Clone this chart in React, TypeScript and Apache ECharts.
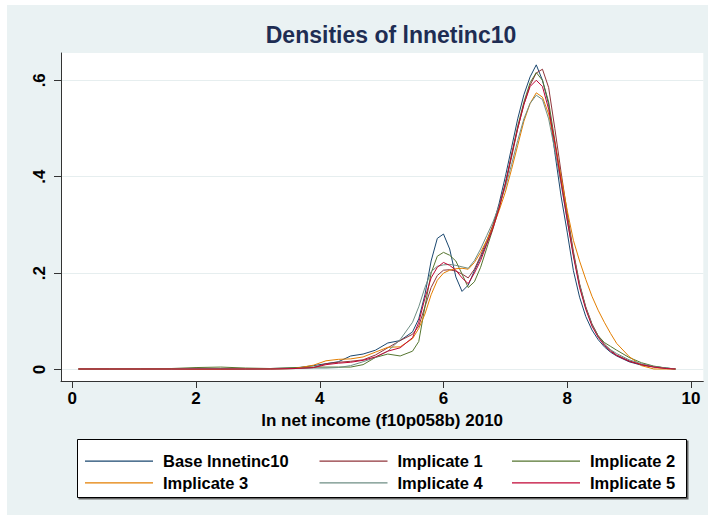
import React, { useEffect, useRef } from "react";
import * as echarts from "echarts";

const X = [0.1, 0.6, 1.1, 1.6, 2.0, 2.4, 2.8, 3.2, 3.6, 3.9, 4.1, 4.3, 4.5, 4.7, 4.9, 5.1, 5.3, 5.5, 5.6, 5.7, 5.8, 5.9, 6.0, 6.1, 6.2, 6.3, 6.4, 6.5, 6.6, 6.7, 6.8, 6.9, 7.0, 7.1, 7.2, 7.3, 7.4, 7.5, 7.6, 7.7, 7.8, 7.9, 8.0, 8.1, 8.2, 8.3, 8.4, 8.5, 8.6, 8.7, 8.8, 9.0, 9.2, 9.4, 9.6, 9.75];

const BASE = [0.001, 0.001, 0.001, 0.001, 0.001, 0.001, 0.001, 0.002, 0.003, 0.008, 0.012, 0.016, 0.028, 0.032, 0.040, 0.055, 0.060, 0.078, 0.105, 0.155, 0.225, 0.272, 0.281, 0.250, 0.192, 0.162, 0.175, 0.205, 0.232, 0.262, 0.298, 0.345, 0.400, 0.460, 0.520, 0.570, 0.607, 0.632, 0.600, 0.550, 0.450, 0.360, 0.285, 0.205, 0.150, 0.110, 0.082, 0.062, 0.047, 0.036, 0.028, 0.016, 0.009, 0.006, 0.003, 0.001];
const IMP1 = [0.001, 0.001, 0.001, 0.001, 0.001, 0.001, 0.001, 0.001, 0.002, 0.004, 0.012, 0.015, 0.017, 0.020, 0.030, 0.045, 0.060, 0.073, 0.090, 0.130, 0.170, 0.195, 0.206, 0.207, 0.204, 0.198, 0.190, 0.208, 0.236, 0.268, 0.300, 0.340, 0.385, 0.440, 0.500, 0.550, 0.590, 0.615, 0.623, 0.585, 0.500, 0.410, 0.325, 0.245, 0.178, 0.130, 0.095, 0.070, 0.053, 0.040, 0.030, 0.018, 0.010, 0.005, 0.002, 0.001];
const IMP2 = [0.001, 0.001, 0.001, 0.002, 0.004, 0.005, 0.003, 0.002, 0.004, 0.005, 0.005, 0.005, 0.005, 0.010, 0.025, 0.032, 0.028, 0.038, 0.058, 0.130, 0.200, 0.235, 0.243, 0.237, 0.225, 0.198, 0.170, 0.182, 0.212, 0.252, 0.292, 0.335, 0.385, 0.445, 0.505, 0.555, 0.595, 0.616, 0.600, 0.555, 0.475, 0.395, 0.315, 0.240, 0.175, 0.128, 0.093, 0.070, 0.056, 0.048, 0.040, 0.025, 0.014, 0.007, 0.003, 0.001];
const IMP3 = [0.001, 0.001, 0.001, 0.001, 0.001, 0.001, 0.001, 0.001, 0.002, 0.009, 0.018, 0.021, 0.022, 0.026, 0.036, 0.046, 0.047, 0.064, 0.085, 0.115, 0.155, 0.185, 0.200, 0.206, 0.209, 0.210, 0.208, 0.222, 0.243, 0.268, 0.296, 0.330, 0.368, 0.415, 0.465, 0.515, 0.552, 0.574, 0.565, 0.530, 0.470, 0.400, 0.330, 0.268, 0.225, 0.187, 0.152, 0.123, 0.098, 0.075, 0.054, 0.027, 0.008, 0.001, 0.001, 0.001];
const IMP4 = [0.001, 0.001, 0.001, 0.001, 0.002, 0.002, 0.001, 0.001, 0.002, 0.003, 0.003, 0.004, 0.008, 0.016, 0.025, 0.038, 0.062, 0.098, 0.130, 0.170, 0.203, 0.214, 0.217, 0.218, 0.216, 0.213, 0.210, 0.226, 0.250, 0.278, 0.306, 0.340, 0.378, 0.425, 0.475, 0.520, 0.552, 0.569, 0.560, 0.520, 0.455, 0.385, 0.310, 0.238, 0.175, 0.128, 0.093, 0.068, 0.052, 0.041, 0.033, 0.020, 0.012, 0.006, 0.003, 0.001];
const IMP5 = [0.001, 0.001, 0.001, 0.001, 0.001, 0.001, 0.001, 0.001, 0.002, 0.004, 0.010, 0.013, 0.015, 0.019, 0.026, 0.038, 0.045, 0.066, 0.098, 0.148, 0.190, 0.212, 0.222, 0.216, 0.206, 0.190, 0.178, 0.200, 0.226, 0.260, 0.293, 0.335, 0.385, 0.445, 0.500, 0.550, 0.587, 0.600, 0.587, 0.540, 0.470, 0.390, 0.310, 0.235, 0.170, 0.125, 0.090, 0.067, 0.050, 0.038, 0.029, 0.017, 0.010, 0.005, 0.002, 0.001];

const SERIES_NAMES = ["Base lnnetinc10", "Implicate 1", "Implicate 2", "Implicate 3", "Implicate 4", "Implicate 5"];
const SERIES_VALUES = [BASE, IMP1, IMP2, IMP3, IMP4, IMP5];
const COLORS = ["#1A476F", "#90353B", "#55752F", "#E37E00", "#6E8E84", "#C10534"];
const X_TICKS = [0, 2, 4, 6, 8, 10];
const Y_TICKS = [0, 0.2, 0.4, 0.6];

const TITLE = "Densities of lnnetinc10";
const X_NAME = "ln net income (f10p058b) 2010";

export default function App() {
  const ref = useRef<HTMLDivElement>(null);
  useEffect(() => {
    const chart = echarts.init(ref.current!, null, { renderer: "svg" });
    const font = "'Liberation Sans', Arial, Helvetica, sans-serif";
    const cols = [85, 319.5, 512];
    const rows = [461.7, 483.3];
    const legends = SERIES_NAMES.map((name, i) => ({
      data: [name],
      left: cols[i % 3],
      top: rows[Math.floor(i / 3)] - 9,
      orient: "horizontal",
      icon: "rect",
      itemWidth: 68,
      itemHeight: 1.2,
      padding: 0,
      selectedMode: false,
      textStyle: { fontFamily: font, fontSize: 16.5, fontWeight: "bold", color: "#000", padding: [0, 0, 0, 5] },
    }));
    const series = SERIES_NAMES.map((name, i) => ({
      type: "line",
      name,
      data: X.map((x, j) => [x, SERIES_VALUES[i][j]]),
      symbol: "none",
      showSymbol: false,
      color: COLORS[i],
      lineStyle: { width: 1, color: COLORS[i] },
      silent: true,
      clip: true,
    }));
    chart.setOption({
      animation: false,
      backgroundColor: "#EAF2F3",
      title: {
        text: TITLE,
        left: 386,
        top: 18,
        textAlign: "center",
        textStyle: { fontFamily: font, fontSize: 23, fontWeight: "bold", color: "#1E2D53" },
      },
      grid: {
        left: 61,
        right: 4.7,
        top: 53,
        bottom: 134,
        show: true,
        backgroundColor: "#ffffff",
        borderWidth: 0,
        containLabel: false,
        outerBoundsMode: "none",
      },
      xAxis: {
        type: "value",
        min: -0.183,
        max: 10.2,
        axisLine: { show: true, onZero: false, lineStyle: { color: "#333", width: 1 } },
        axisTick: { show: true, length: 7, customValues: X_TICKS, lineStyle: { color: "#333" } },
        axisLabel: { customValues: X_TICKS, margin: 9, fontFamily: font, fontSize: 17, fontWeight: "bold", color: "#000" },
        splitLine: { show: false },
        name: X_NAME,
        nameLocation: "middle",
        nameGap: 18,
        nameTextStyle: { fontFamily: font, fontSize: 17, fontWeight: "bold", color: "#000" },
      },
      yAxis: {
        type: "value",
        min: -0.0239,
        max: 0.6566,
        axisLine: { show: true, onZero: false, lineStyle: { color: "#333", width: 1 } },
        axisTick: { show: true, length: 7, customValues: Y_TICKS, lineStyle: { color: "#333" } },
        axisLabel: {
          customValues: Y_TICKS,
          rotate: 90,
          margin: 13,
          fontFamily: font,
          fontSize: 17,
          fontWeight: "bold",
          color: "#000",
          formatter: (v: number) => (v === 0 ? "0" : "." + Math.round(v * 10)),
        },
        splitLine: { show: true, lineStyle: { color: "#E6EEEF", width: 1 } },
      },
      legend: legends,
      graphic: [
        { type: "rect", shape: { x: 0, y: 0, width: 708, height: 5 }, style: { fill: "#ffffff" }, silent: true },
        { type: "rect", shape: { x: 0, y: 0, width: 7, height: 515 }, style: { fill: "#ffffff" }, silent: true },
        { type: "rect", shape: { x: 78.5, y: 440.5, width: 610, height: 59 }, style: { fill: "#666666" }, silent: true },
        { type: "rect", shape: { x: 77.5, y: 439.5, width: 609, height: 58 }, style: { fill: "#ffffff", stroke: "#000000", lineWidth: 1 }, silent: true },
      ],
      series,
    });
    return () => chart.dispose();
  }, []);
  return <div ref={ref} style={{ position: "fixed", left: 0, top: 0, width: 708, height: 515 }} />;
}
